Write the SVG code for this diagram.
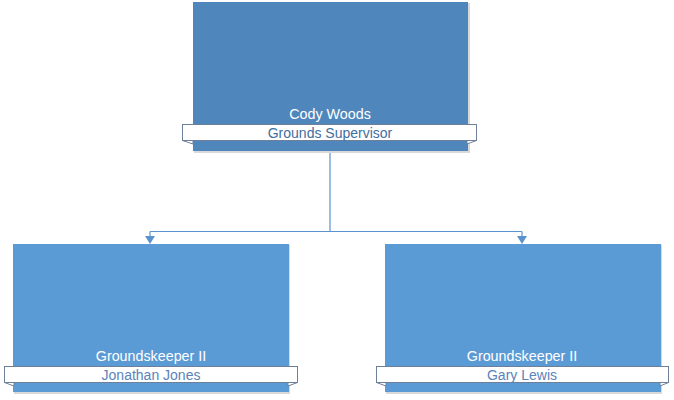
<svg xmlns="http://www.w3.org/2000/svg" width="674" height="400" viewBox="0 0 674 400">
<style>
.shadow{fill:#d9d9d9}
.top{fill:#4f87bd}
.box{fill:#5b9bd5}
.ban{fill:#ffffff;stroke:#6d7f99;stroke-width:1}
.fold{fill:#ffffff;stroke:#6d7f99;stroke-width:1}
.t1{font-family:"Liberation Sans",Arial,sans-serif;font-size:14.3px;fill:#ffffff;text-anchor:middle}
.t2{font-family:"Liberation Sans",Arial,sans-serif;font-size:14px;fill:#3f6e9f;text-anchor:middle}
.t3{font-family:"Liberation Sans",Arial,sans-serif;font-size:14px;fill:#5a83bb;text-anchor:middle}
.conn{fill:none;stroke:#5b93cc;stroke-width:1.2}
.head{fill:#5b93cc}
</style>
<g id="connectors">
<path class="conn" d="M330,151 V231.5 M150,231.5 H522 M150,231.5 V238 M522,231.5 V238"/>
<path class="head" d="M145,236 L155,236 L150,244 Z"/>
<path class="head" d="M517,236 L527,236 L522,244 Z"/>
</g>
<g id="node-cody">
<rect class="shadow" x="194" y="3" width="276" height="150"/>
<rect class="top" x="193" y="2" width="275" height="149"/>
<path class="fold" d="M182.5,140.5 L193,144 L193,140.5 Z"/>
<path class="fold" d="M476.5,140.5 L467,144 L467,140.5 Z"/>
<rect class="ban" x="182.5" y="124.5" width="294" height="16"/>
<text class="t1" x="330" y="119">Cody Woods</text>
<text class="t2" x="330" y="137.5">Grounds Supervisor</text>
</g>
<g id="node-jonathan">
<rect class="shadow" x="14" y="245" width="276" height="149"/>
<rect class="box" x="13" y="244" width="276" height="148"/>
<path class="fold" d="M4.5,382.5 L14,386 L14,382.5 Z"/>
<path class="fold" d="M297.5,382.5 L288,386 L288,382.5 Z"/>
<rect class="ban" x="4.5" y="366.5" width="293" height="16"/>
<text class="t1" x="151" y="360.5">Groundskeeper II</text>
<text class="t3" x="151" y="379.5">Jonathan Jones</text>
</g>
<g id="node-gary">
<rect class="shadow" x="386" y="245" width="276" height="149"/>
<rect class="box" x="385" y="244" width="276" height="148"/>
<path class="fold" d="M376.5,382.5 L386,386 L386,382.5 Z"/>
<path class="fold" d="M668.5,382.5 L660,386 L660,382.5 Z"/>
<rect class="ban" x="376.5" y="366.5" width="292" height="16"/>
<text class="t1" x="522" y="360.5">Groundskeeper II</text>
<text class="t3" x="522" y="379.5">Gary Lewis</text>
</g>
</svg>
